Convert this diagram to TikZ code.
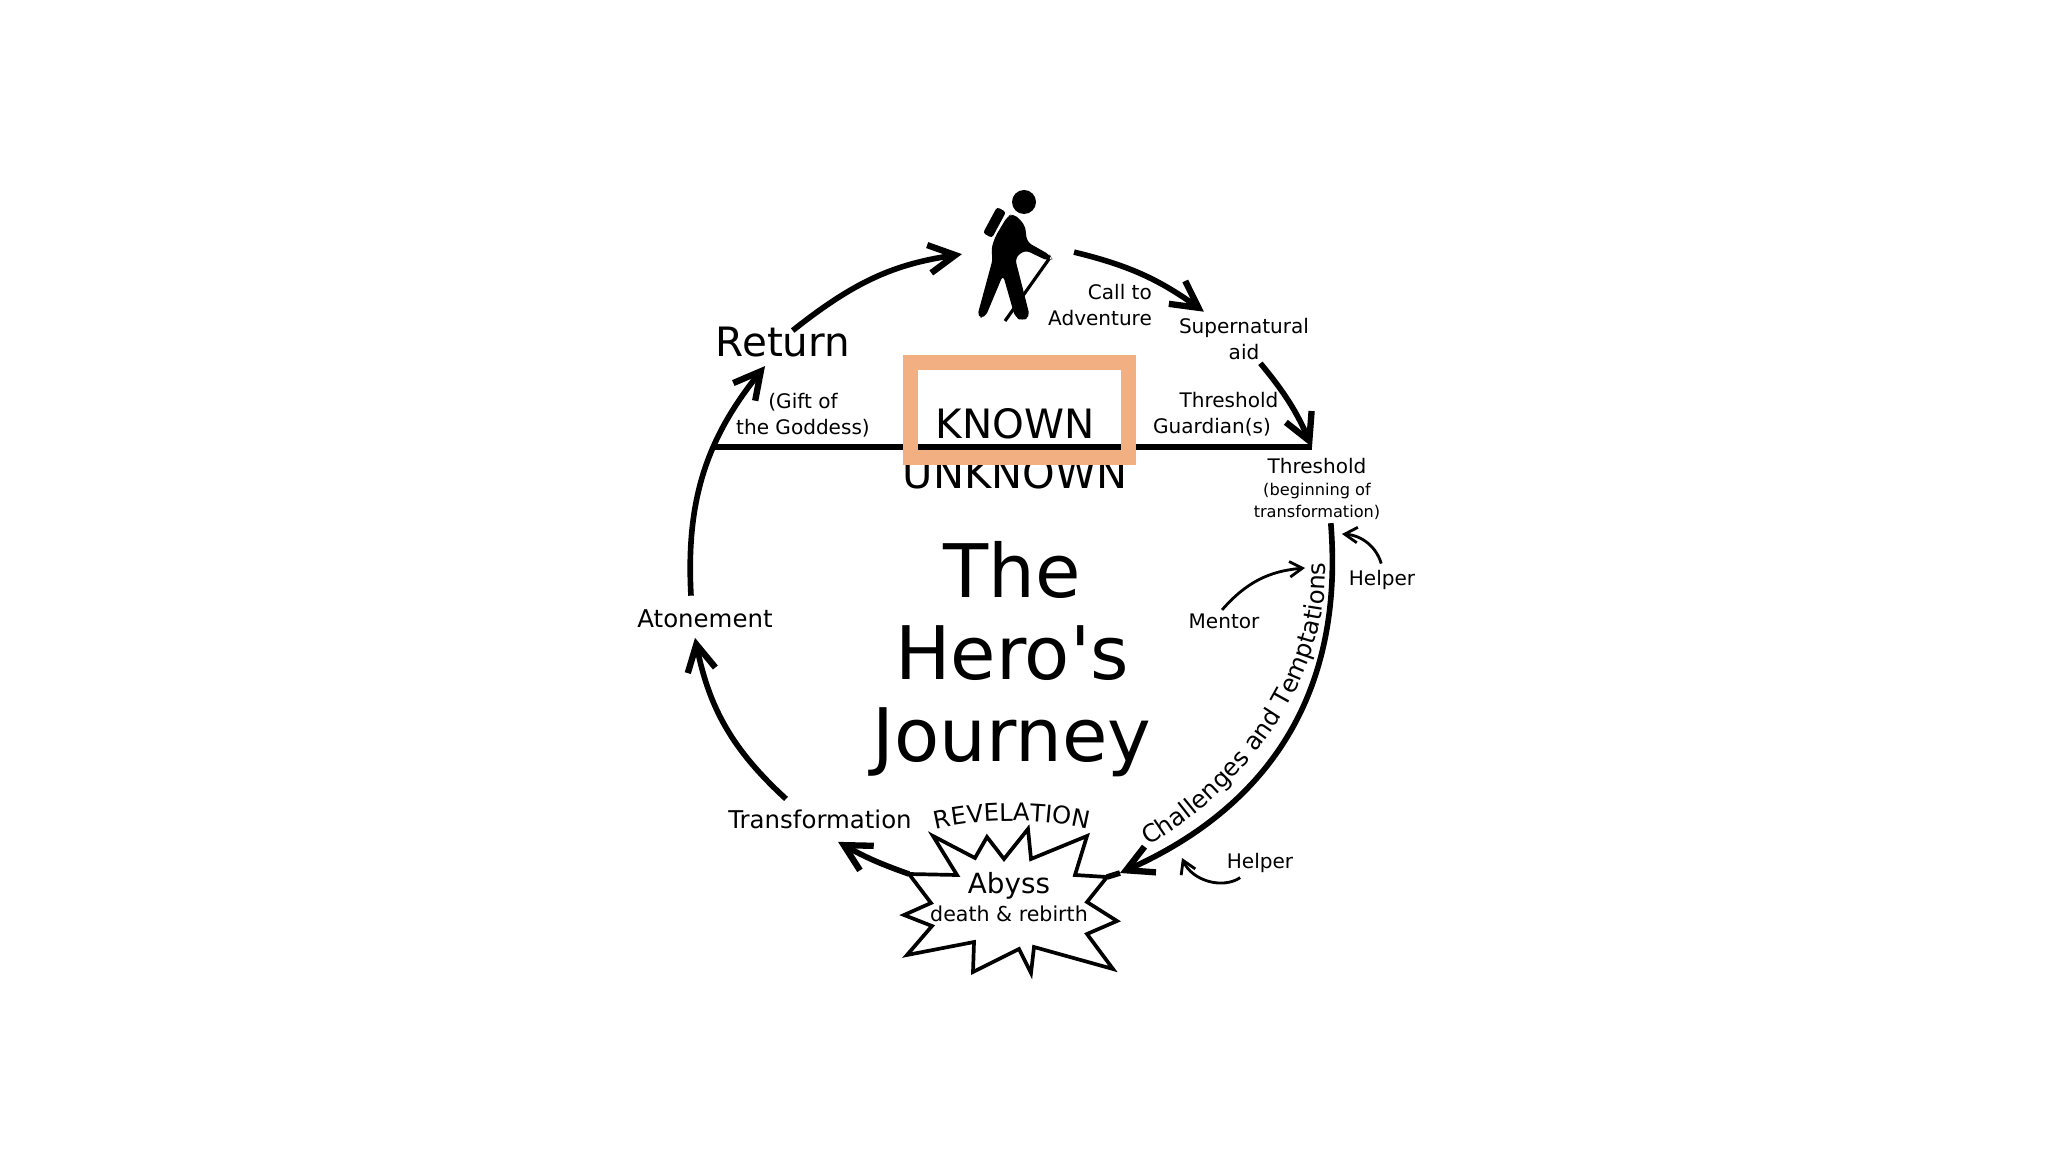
\documentclass[tikz,border=0pt]{standalone}
\usepackage{fontspec}
\setmainfont{DejaVu Sans}
\usepackage{tikz}
\usetikzlibrary{arrows.meta, decorations.text}
\definecolor{knownbox}{RGB}{241,175,130}

\begin{document}
\begin{tikzpicture}[x=0.01cm,y=-0.01cm,
		txt/.style={inner sep=0pt,outer sep=1pt,anchor=base},
		small/.style={txt,font=\fontsize{5.7}{7.4}\selectfont,align=center},
		mid/.style={txt,font=\fontsize{6.95}{8}\selectfont},
		large/.style={txt,font=\fontsize{11.5}{13}\selectfont},
		arc/.style={line width=1.6pt,-{Straight Barb[length=7.5pt,width=8pt,line width=1.8pt]}},
		thin arc/.style={line width=0.8pt,-{Straight Barb[length=3.6pt,width=4.4pt,line width=0.8pt]}}]
	\useasboundingbox (0,0) rectangle (2048,1152);
	% threshold line
	\coordinate (lineL) at (715,447);
	\coordinate (lineR) at (1312,447);
	\draw[line width=1.5pt] (lineL) -- (lineR);
	\node[large,font=\fontsize{11.8}{13}\selectfont] (unknown) at (1015,489) {UNKNOWN};
	\node[draw=knownbox,line width=4.27pt,minimum width=2.17cm,minimum height=0.94cm,outer sep=0pt] (box) at (1019.5,410) {};
	\node[large] (known) at (1015,439) {KNOWN};
	% title
	\node[font=\fontsize{21}{23.3}\selectfont,align=center,inner sep=0pt] (title) at (1012,659) {The\\Hero\textquotesingle s\\Journey};
	% hiker
	\node[inner sep=0pt,outer sep=0pt,minimum width=1.12cm,minimum height=1.25cm] (hiker) at (1018,262) {};
	\fill (1024,202) circle (12);
	\fill[rounded corners=0.8pt] (997,207) -- (1006,212) -- (992,238) -- (983,233) -- cycle;
	\draw[line width=0.9pt] (1049,259) -- (1005,321);
	\fill[rounded corners=1.5pt] (1013,213) -- (1025,225) -- (1027,242) -- (1050,255) -- (1052,259) -- (1048,261)
		-- (1025,250) -- (1015,258) -- (1030,317) -- (1022,321) -- (1015,317) -- (1003,275)
		-- (985,318) -- (977,317) -- (993,258) -- (991,250) -- (995,237) -- (1007,217) -- cycle;
	% abyss
	\coordinate (starR) at (1107,877);
	\coordinate (starL) at (909,874);
	\coordinate (abyssTip) at (1120,873);
	\draw[line width=1.05pt,fill=white,miter limit=8] (933,836) -- (975,858) -- (987,837) -- (1004,859) -- (1028,829) -- (1031,859)
		-- (1087,836) -- (1075,875) -- (starR) -- (1087,902) -- (1117,921) -- (1087,934)
		-- (1113,969) -- (1034,947) -- (1031,973) -- (1019,949) -- (973,972) -- (974,942)
		-- (907,955) -- (932,926) -- (904,915) -- (931,903) -- (starL) -- (957,875) -- cycle;
	\node[txt,font=\fontsize{7.9}{9}\selectfont] (abyss) at (1009,893) {Abyss};
	\node[txt,font=\fontsize{5.85}{7}\selectfont] (rebirth) at (1009,921) {death \& rebirth};
	\path[decorate,decoration={text along path,text align=center,
		text={|\fontsize{6.9}{8}\selectfont|REVELATION}}]
		(933,830) .. controls (977,818) and (1047,818) .. (1091,830);
	% labels
	\node[large] (return) at (783,357) {Return};
	\node[mid] (atonement) at (705,627) {Atonement};
	\node[mid] (transformation) at (820,828) {Transformation};
	\node[small,anchor=center] (gift) at (803,415) {(Gift of\\the Goddess)};
	\node[small,anchor=center,align=right] (call) at (1100,305) {Call to\\Adventure};
	\node[small,anchor=center] (super) at (1244,339) {Supernatural\\aid};
	\node[small] (guardA) at (1229,408) {Threshold};
	\node[small] (guardB) at (1212,434) {Guardian(s)};
	\node[small,anchor=center] (thresh) at (1317,489) {Threshold\\[-1.2pt]{\fontsize{4.6}{5.6}\selectfont (beginning of}\\[-1.1pt]{\fontsize{4.6}{5.6}\selectfont transformation)}};
	\node[small] (mentor) at (1224,628) {Mentor};
	\node[small] (helperA) at (1382,585) {Helper};
	\node[small] (helperB) at (1260,868) {Helper};
	% journey
	\draw[arc,shorten <=-3pt] (return.46) to[bend left=15] (hiker.172);
	\draw[arc] (hiker.10) to[bend left=11] ([shift={(2,-3)}]super.150);
	\draw[arc] (super.-56) to[bend left=8] (lineR);
	\draw[arc] (thresh.-68) .. controls (1346,712) and (1250,815) .. (abyssTip);
	\draw[line width=1.6pt] (abyssTip) -- (starR);
	\draw[arc] (starL) to[bend left=5] ([shift={(18,10)}]transformation.south);
	\draw[arc] ([shift={(-34,-7)}]transformation.north) to[bend left=18] ([shift={(-10,7)}]atonement.south);
	\draw[arc] ([shift={(-14,-10)}]atonement.north) to[bend left=21] ([shift={(-18,5)}]return.south);
	\path[decorate,decoration={text along path,text align=center,
		text={|\fontsize{6.95}{8}\selectfont|Challenges and Temptations}}]
		(1146,847) .. controls (1236,797) and (1332,682) .. (1325,560);
	% helpers
	\coordinate (mentorEnd) at (1305,568);
	\coordinate (helperAEnd) at (1342,534);
	\coordinate (helperBEnd) at (1182,858);
	\draw[thin arc] (mentor.100) to[bend left=22] (mentorEnd);
	\draw[thin arc,shorten <=0.8pt] (helperA.north) to[bend right=35] (helperAEnd);
	\draw[thin arc,shorten <=1pt] (helperB.-142) to[bend left=50] (helperBEnd);
\end{tikzpicture}
\end{document}
